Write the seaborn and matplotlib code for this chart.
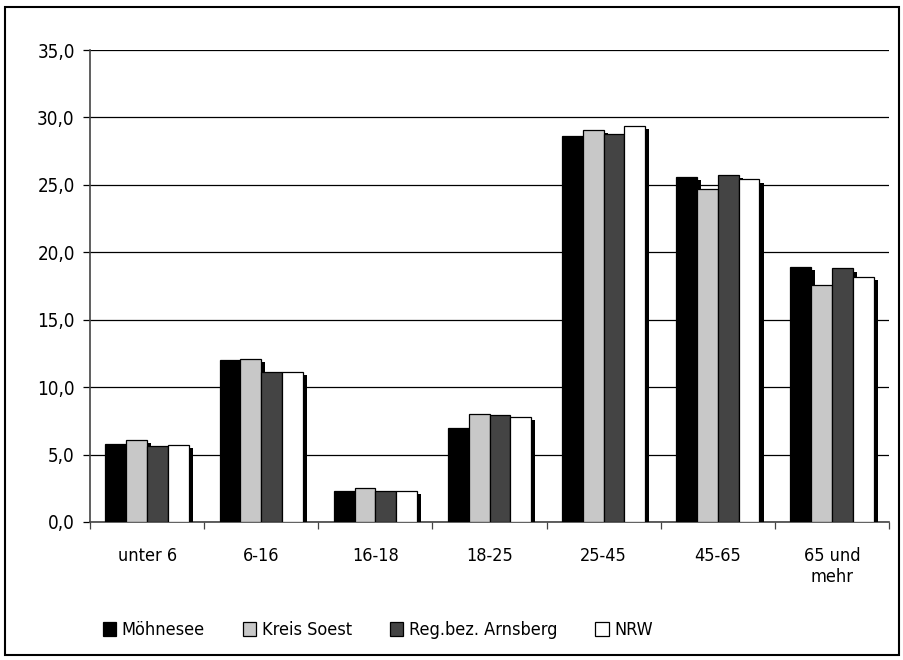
import matplotlib
matplotlib.use("Agg")
import matplotlib.pyplot as plt
import matplotlib.patheffects as pe
from matplotlib.patches import Rectangle
from matplotlib.ticker import FixedLocator, FuncFormatter
import numpy as np
import pandas as pd
import seaborn as sns

# Bevölkerung nach Altersgruppen (Anteil in %)
altersgruppen = ["unter 6", "6-16", "16-18", "18-25", "25-45", "45-65", "65 und\nmehr"]
gebiete = ["Möhnesee", "Kreis Soest", "Reg.bez. Arnsberg", "NRW"]
moehnesee = [5.8, 12.0, 2.3, 7.0, 28.6, 25.6, 18.9]
kreis_soest = [6.1, 12.1, 2.5, 8.0, 29.1, 24.7, 17.6]
regbez_arnsberg = [5.6, 11.1, 2.3, 7.9, 28.8, 25.7, 18.8]
nrw = [5.7, 11.1, 2.3, 7.8, 29.4, 25.4, 18.2]
farben = ["#000000", "#c8c8c8", "#444444", "#ffffff"]

werte = [moehnesee, kreis_soest, regbez_arnsberg, nrw]
df = pd.DataFrame({
    "Altersgruppe": altersgruppen * len(gebiete),
    "Gebiet": np.repeat(gebiete, len(altersgruppen)),
    "Anteil": np.concatenate(werte),
})

sns.set_theme(style="white")
plt.rcParams["font.family"] = ["DejaVu Sans"]
plt.rcParams["font.stretch"] = "condensed"
plt.rcParams["font.size"] = 13
plt.rcParams["text.color"] = "black"

fig = plt.figure(figsize=(9.04, 6.6), dpi=100)
ax = fig.add_axes([0.0996, 0.2091, 0.8838, 0.7151])

sns.barplot(data=df, x="Altersgruppe", y="Anteil", hue="Gebiet",
            order=altersgruppen, hue_order=gebiete, palette=farben,
            width=0.73, gap=0, edgecolor="black", linewidth=0.9,
            saturation=1, ax=ax, legend=True, zorder=3)

# Schlagschatten hinter jedem Balken
schatten = [pe.SimplePatchShadow(offset=(3, -2.2), shadow_rgbFace="black", alpha=1.0),
            pe.Normal()]
for p in ax.patches:
    p.set_path_effects(schatten)

ax.set_ylim(0, 35)
ax.set_xlim(-0.5, len(altersgruppen) - 0.5)
ax.yaxis.set_major_locator(FixedLocator(np.arange(0, 35.1, 5)))
ax.yaxis.set_major_formatter(FuncFormatter(lambda v, _: f"{v:.1f}".replace(".", ",")))
ax.grid(axis="y", color="black", linewidth=0.9, zorder=0)
ax.set_axisbelow(True)

ax.set_xlabel("")
ax.set_ylabel("")
ax.xaxis.set_minor_locator(FixedLocator(np.arange(-0.5, len(altersgruppen), 1.0)))
ax.tick_params(axis="x", which="major", length=0, pad=18, labelsize=13, colors="black")
ax.tick_params(axis="x", which="minor", length=5, width=0.9, color="#444444", bottom=True)
ax.tick_params(axis="y", which="major", length=5, width=0.9, color="black",
               left=True, pad=6, labelsize=13.5, labelcolor="black")

for s in ["top", "right"]:
    ax.spines[s].set_visible(False)
ax.spines["left"].set_color("#444444")
ax.spines["left"].set_linewidth(1.2)
ax.spines["bottom"].set_color("#444444")
ax.spines["bottom"].set_linewidth(1.2)

handles, labels = ax.get_legend_handles_labels()
ax.legend_.remove()
for h in handles:
    h.set_path_effects([])
fig.legend(handles, labels, loc="center", bbox_to_anchor=(0.418, 0.045),
           ncol=4, frameon=False, handlelength=0.75, handleheight=0.75,
           handletextpad=0.3, columnspacing=2.1, fontsize=13)

# Rahmen um die Grafik
fig.patches.append(Rectangle((0.0055, 0.008), 0.989, 0.981, transform=fig.transFigure,
                             fill=False, edgecolor="black", linewidth=1.5))

fig.savefig("out.png", dpi=100)
